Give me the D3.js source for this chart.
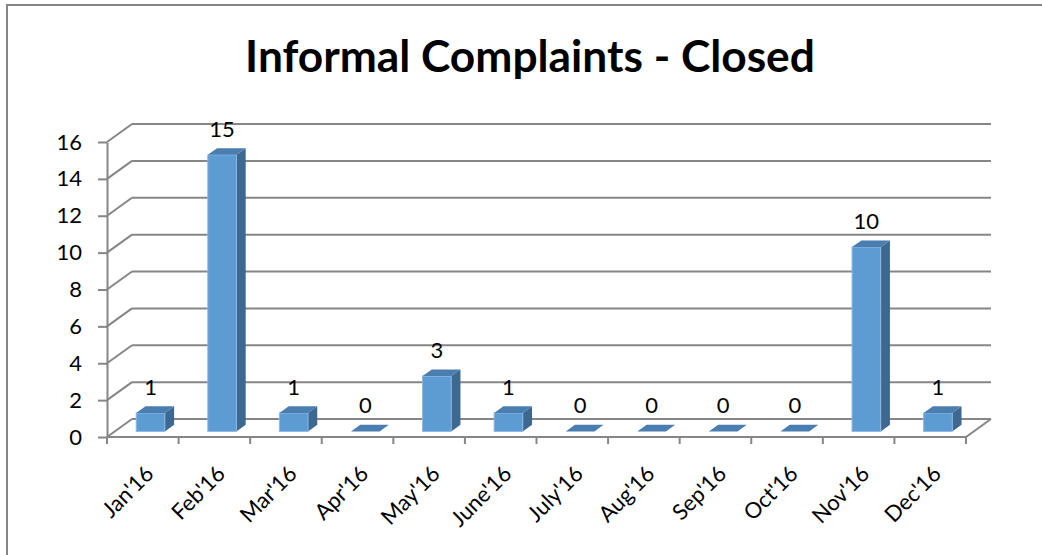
<!DOCTYPE html>
<html lang="en">
<head>
	<meta charset="utf-8">
	<title>Informal Complaints - Closed</title>
	<script src="https://cdnjs.cloudflare.com/ajax/libs/d3/7.8.5/d3.min.js"></script>
	<style>
	body {
		margin: 0;
		background-color: #ffffff;
	}
	svg text {
		font-family: Lato, "Open Sans", sans-serif;
		fill: #000;
	}
	</style>
</head>
<body>
	<svg id="chart" width="1042" height="555"></svg>
	<script>
	// values
	var months = ["Jan'16", "Feb'16", "Mar'16", "Apr'16", "May'16", "June'16",
		"July'16", "Aug'16", "Sep'16", "Oct'16", "Nov'16", "Dec'16"];
	var closedCount = [1, 15, 1, 0, 3, 1, 0, 0, 0, 0, 10, 1];
	var yTicks = [0, 2, 4, 6, 8, 10, 12, 14, 16];

	var svg = d3.select('#chart');
	var grid = '#868686';

	// depth of the 3d box (back wall offset)
	var dx = 25, dy = -18;
	// where the bars sit inside the depth, and how deep they are
	var f0 = 0.31, fd = 0.37;

	var x = d3.scaleBand()
		.domain(months)
		.range([107, 966])
		.paddingInner(0.6)
		.paddingOuter(0.3);

	var y = d3.scaleLinear()
		.domain([0, 16])
		.range([437, 142]);

	var step = x.step();
	var left = x.range()[0], right = x.range()[1];
	var rows = months.map(function(m, i) { return {m: m, v: closedCount[i]}; });

	// outer chart border
	svg.append('rect')
		.attr('x', 7).attr('y', 5)
		.attr('width', 1100).attr('height', 700)
		.attr('fill', 'none')
		.attr('stroke', grid)
		.attr('stroke-width', 2);

	// title
	var title = svg.append('text')
		.attr('x', 530).attr('y', 72)
		.attr('text-anchor', 'middle')
		.style('font-weight', 'bold')
		.style('font-size', '40px')
		.text('Informal Complaints - Closed');
	var tw = title.node().getComputedTextLength();
	title.style('font-size', (40 * 570 / tw) + 'px');

	// back wall gridlines + side wall diagonals
	var walls = svg.append('g')
		.attr('stroke', grid)
		.attr('stroke-width', 2)
		.attr('fill', 'none');

	walls.selectAll('.gridline')
		.data(yTicks)
		.join('line')
		.attr('class', 'gridline')
		.attr('x1', left + dx).attr('x2', right + dx)
		.attr('y1', function(d) { return y(d) + dy; })
		.attr('y2', function(d) { return y(d) + dy; });

	walls.selectAll('.side')
		.data(yTicks)
		.join('line')
		.attr('class', 'side')
		.attr('x1', left).attr('x2', left + dx)
		.attr('y1', function(d) { return y(d); })
		.attr('y2', function(d) { return y(d) + dy; });

	// floor front and right edges
	walls.append('path')
		.attr('d', 'M' + left + ',' + y(0) + 'L' + right + ',' + y(0) +
			'L' + (right + dx) + ',' + (y(0) + dy));

	// category ticks at band edges
	var edges = d3.range(months.length + 1).map(function(i) { return left + i * step; });
	walls.selectAll('.xtick')
		.data(edges)
		.join('line')
		.attr('class', 'xtick')
		.attr('x1', function(d) { return d; }).attr('x2', function(d) { return d; })
		.attr('y1', y(0)).attr('y2', y(0) + 7);

	// bars
	var bw = x.bandwidth();
	var ox = dx * f0, oy = dy * f0;
	var bdx = dx * fd, bdy = dy * fd;

	var bars = svg.append('g')
		.selectAll('g')
		.data(rows)
		.join('g');

	bars.each(function(d) {
		var g = d3.select(this);
		var x0 = x(d.m) + ox;
		var x1 = x0 + bw;
		var yb = y(0) + oy;
		var yt = y(d.v) + oy;
		if (d.v > 0) {
			// side face
			g.append('path')
				.attr('d', 'M' + x1 + ',' + yb + 'L' + (x1 + bdx) + ',' + (yb + bdy) +
					'L' + (x1 + bdx) + ',' + (yt + bdy) + 'L' + x1 + ',' + yt + 'Z')
				.attr('fill', '#3d6890');
			// front face
			g.append('rect')
				.attr('x', x0).attr('y', yt)
				.attr('width', bw).attr('height', yb - yt)
				.attr('fill', '#5d9bd3')
				.attr('stroke', '#8cb8e4')
				.attr('stroke-width', 1);
		}
		// top face
		g.append('path')
			.attr('d', 'M' + x0 + ',' + yt + 'L' + x1 + ',' + yt +
				'L' + (x1 + bdx) + ',' + (yt + bdy) + 'L' + (x0 + bdx) + ',' + (yt + bdy) + 'Z')
			.attr('fill', '#4a7db0');
	});

	// data labels
	svg.append('g')
		.selectAll('text')
		.data(rows)
		.join('text')
		.attr('x', function(d) { return x(d.m) + ox + bw / 2; })
		.attr('y', function(d) { return y(d.v) + oy - 18; })
		.attr('text-anchor', 'middle')
		.style('font-size', '22px')
		.text(function(d) { return d.v; });

	// front value axis
	var yAxis = svg.append('g')
		.attr('transform', 'translate(' + left + ',0)')
		.call(d3.axisLeft(y).tickValues(yTicks).tickSize(9).tickSizeOuter(0).tickPadding(16));
	yAxis.select('.domain').attr('stroke', grid).attr('stroke-width', 2);
	yAxis.selectAll('.tick line').attr('stroke', grid).attr('stroke-width', 2);
	yAxis.selectAll('.tick text')
		.style('font-size', '22px')
		.style('font-family', 'Lato, sans-serif')
		.attr('fill', '#000');

	// category labels, rotated
	svg.append('g')
		.selectAll('text')
		.data(months)
		.join('text')
		.attr('transform', function(d) {
			return 'translate(' + (x(d) + bw / 2 + 1) + ',' + (y(0) + 27) + ') rotate(-45)';
		})
		.attr('text-anchor', 'end')
		.attr('dy', '0.72em')
		.style('font-size', '22px')
		.text(function(d) { return d; });
	</script>
</body>
</html>
